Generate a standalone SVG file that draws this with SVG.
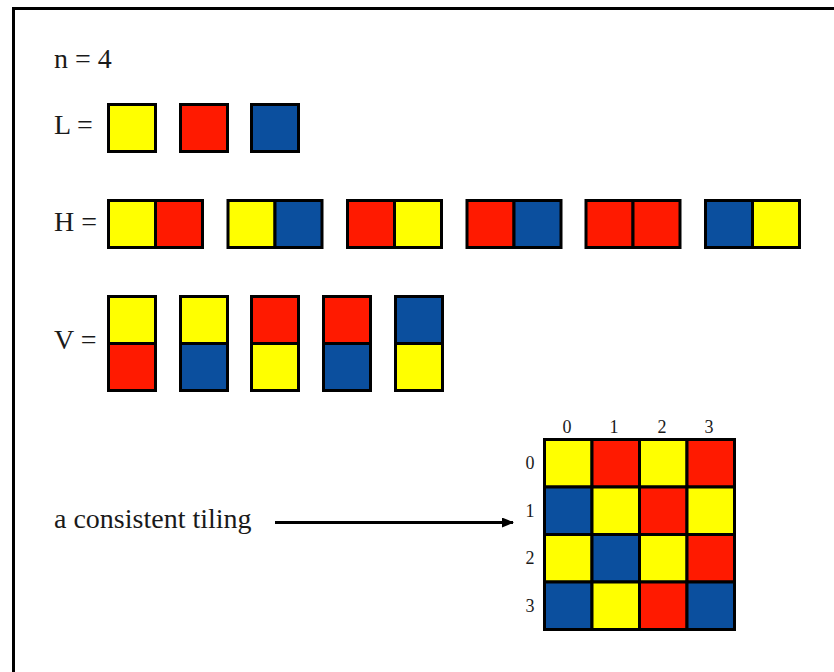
<svg xmlns="http://www.w3.org/2000/svg" width="834" height="672" viewBox="0 0 834 672">
  <style>
    .lbl { font-family: "Liberation Serif", "Times New Roman", serif; font-size: 28px; fill: #1a1a1a; }
    .idx { font-family: "Liberation Serif", "Times New Roman", serif; font-size: 18px; fill: #1a1a1a; text-anchor: middle; }
    .c { stroke: #000; stroke-width: 3; }
    .y { fill: #FFFF00; }
    .r { fill: #FF1A00; }
    .b { fill: #0B4F9E; }
  </style>
  <defs>
    <marker id="arrow" viewBox="0 0 12 10" refX="11" refY="5" markerWidth="12" markerHeight="10" markerUnits="userSpaceOnUse" orient="auto">
      <path d="M0,0 L12,5 L0,10 Z" fill="#000"/>
    </marker>
  </defs>

  <rect width="834" height="672" fill="#fff"/>
  <!-- frame -->
  <rect x="13.5" y="8.5" width="900" height="700" fill="none" stroke="#000" stroke-width="3"/>

  <text class="lbl" x="54" y="68">n = 4</text>

  <!-- single tiles -->
  <g id="L">
    <text class="lbl" x="54" y="134">L =</text>
    <rect class="c y" x="108.5" y="104.5" width="47" height="47"/>
    <rect class="c r" x="180.5" y="104.5" width="47" height="47"/>
    <rect class="c b" x="251.5" y="104.5" width="47" height="47"/>
  </g>

  <!-- horizontal pairs -->
  <g id="H">
    <text class="lbl" x="54" y="231">H =</text>
    <g id="h1"><rect class="c y" x="108.5" y="200.5" width="47" height="47"/><rect class="c r" x="155.5" y="200.5" width="47" height="47"/></g>
    <g id="h2"><rect class="c y" x="228" y="200.5" width="47" height="47"/><rect class="c b" x="275" y="200.5" width="47" height="47"/></g>
    <g id="h3"><rect class="c r" x="347.5" y="200.5" width="47" height="47"/><rect class="c y" x="394.5" y="200.5" width="47" height="47"/></g>
    <g id="h4"><rect class="c r" x="467" y="200.5" width="47" height="47"/><rect class="c b" x="514" y="200.5" width="47" height="47"/></g>
    <g id="h5"><rect class="c r" x="586" y="200.5" width="47" height="47"/><rect class="c r" x="633" y="200.5" width="47" height="47"/></g>
    <g id="h6"><rect class="c b" x="705.5" y="200.5" width="47" height="47"/><rect class="c y" x="752.5" y="200.5" width="47" height="47"/></g>
  </g>

  <!-- vertical pairs -->
  <g id="V">
    <text class="lbl" x="54" y="349">V =</text>
    <g id="v1"><rect class="c y" x="108.5" y="296.5" width="47" height="47"/><rect class="c r" x="108.5" y="343.5" width="47" height="47"/></g>
    <g id="v2"><rect class="c y" x="180.5" y="296.5" width="47" height="47"/><rect class="c b" x="180.5" y="343.5" width="47" height="47"/></g>
    <g id="v3"><rect class="c r" x="251.5" y="296.5" width="47" height="47"/><rect class="c y" x="251.5" y="343.5" width="47" height="47"/></g>
    <g id="v4"><rect class="c r" x="323.5" y="296.5" width="47" height="47"/><rect class="c b" x="323.5" y="343.5" width="47" height="47"/></g>
    <g id="v5"><rect class="c b" x="395.5" y="296.5" width="47" height="47"/><rect class="c y" x="395.5" y="343.5" width="47" height="47"/></g>
  </g>

  <g id="caption">
    <text class="lbl" x="54" y="528">a consistent tiling</text>
  </g>

  <g id="connectors">
    <line x1="275" y1="522.5" x2="513" y2="522.5" stroke="#000" stroke-width="3" marker-end="url(#arrow)"/>
  </g>

  <!-- 4x4 tiling -->
  <g id="grid">
    <text class="idx" x="567" y="433">0</text>
    <text class="idx" x="614" y="433">1</text>
    <text class="idx" x="662" y="433">2</text>
    <text class="idx" x="709" y="433">3</text>
    <text class="idx" x="530" y="469">0</text>
    <text class="idx" x="530" y="517">1</text>
    <text class="idx" x="530" y="564">2</text>
    <text class="idx" x="530" y="612">3</text>

    <rect class="c y" x="544.5" y="439.5" width="47.5" height="47.5"/>
    <rect class="c r" x="592" y="439.5" width="47.5" height="47.5"/>
    <rect class="c y" x="639.5" y="439.5" width="47.5" height="47.5"/>
    <rect class="c r" x="687" y="439.5" width="47.5" height="47.5"/>

    <rect class="c b" x="544.5" y="487" width="47.5" height="47.5"/>
    <rect class="c y" x="592" y="487" width="47.5" height="47.5"/>
    <rect class="c r" x="639.5" y="487" width="47.5" height="47.5"/>
    <rect class="c y" x="687" y="487" width="47.5" height="47.5"/>

    <rect class="c y" x="544.5" y="534.5" width="47.5" height="47.5"/>
    <rect class="c b" x="592" y="534.5" width="47.5" height="47.5"/>
    <rect class="c y" x="639.5" y="534.5" width="47.5" height="47.5"/>
    <rect class="c r" x="687" y="534.5" width="47.5" height="47.5"/>

    <rect class="c b" x="544.5" y="582" width="47.5" height="47.5"/>
    <rect class="c y" x="592" y="582" width="47.5" height="47.5"/>
    <rect class="c r" x="639.5" y="582" width="47.5" height="47.5"/>
    <rect class="c b" x="687" y="582" width="47.5" height="47.5"/>
  </g>
</svg>
